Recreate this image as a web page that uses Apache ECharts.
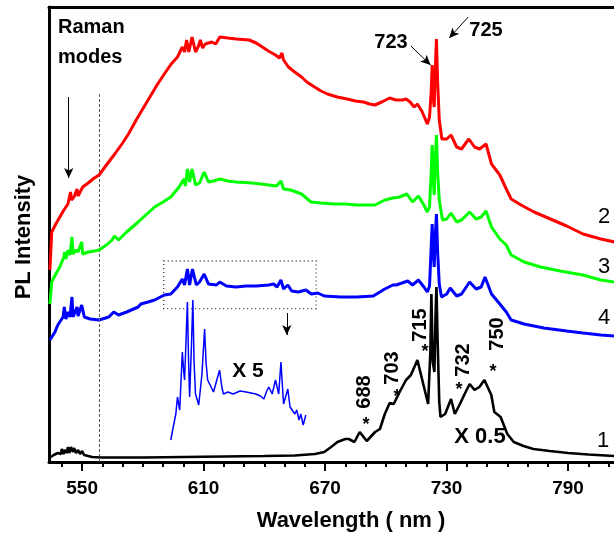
<!DOCTYPE html>
<html>
<head>
<meta charset="utf-8">
<script src="https://cdn.jsdelivr.net/npm/echarts@6/dist/echarts.min.js"></script>
<style>
html,body{margin:0;padding:0;background:#fff}
#plchart{width:614px;height:537px}
</style>
</head>
<body>
<div id="plchart"></div>
<script>
// tick labels of the wavelength axis
var majorTicks = [550, 610, 670, 730, 790]
var minorTicks = [540, 550, 560, 570, 580, 590, 600, 610, 620, 630, 640, 650, 660, 670, 680, 690, 700, 710, 720, 730, 740, 750, 760, 770, 780, 790, 800, 810]

// curve 2 (red)
var redNm = [534.1, 535.0, 537, 539, 541, 543, 544.3, 544.7, 546, 547.5, 548, 550.3, 553, 556, 558.4, 562, 566.5, 570, 572.9, 577, 582.6, 587, 590.6, 594, 597.1, 599.5, 600.6, 601.6, 602.7, 604.3, 606.0, 607.5, 608.4, 609.5, 610.8, 614.0, 616, 618.0, 622, 626.1, 632.5, 636, 639.0, 642, 645.5, 647.5, 648.7, 649.5, 651.9, 655, 658.4, 661, 664.8, 668, 671.2, 676, 680.9, 685, 689.0, 692, 694.6, 698, 701.9, 705, 708.3, 710, 712, 714, 715.6, 718, 720.5, 721.6, 722.4, 722.9, 723.4, 723.9, 724.4, 725.0, 725.6, 726.4, 727.7, 730.1, 732.2, 735.0, 737.4, 741.0, 743.8, 746.3, 749.5, 752.2, 756.3, 759.5, 761.9, 766.8, 773.2, 781.3, 789.3, 797.4, 806.2, 813]
var redPl = [192, 230, 238, 245, 252, 258, 270, 262, 265, 273, 266, 275, 279, 284, 287, 297, 309, 319, 328, 343, 362, 377, 388, 398, 405, 415, 410, 422, 410, 425, 410, 416, 422, 414, 418, 420, 418, 425, 424, 423, 422, 419, 415, 411, 407, 404, 409, 402, 395, 390, 385, 380, 375, 371, 368, 365, 363, 361, 360, 358, 357, 360, 364, 362, 362, 363, 360, 355, 358, 350, 338, 345, 370, 397, 365, 355, 390, 423, 380, 342, 323, 323, 327, 315, 313, 323, 315, 313, 318, 298, 287, 273, 263, 257, 250, 243, 236, 228, 223, 220]

// curve 3 (green)
var greenNm = [534.1, 535, 537, 539, 541, 541.4, 542, 543, 544, 545, 545.5, 547, 548, 549.8, 550.3, 553, 556, 558.4, 562, 564.8, 566, 568, 572, 577.7, 582, 585.8, 590, 593.8, 597.9, 600.3, 601, 602, 603.1, 604.3, 606, 608, 610.3, 612.4, 615, 618, 622, 626.1, 634, 642.2, 646, 648.2, 649.5, 653, 658.4, 663, 668, 674.5, 680, 685.8, 690, 694.6, 699.5, 703.5, 706.8, 710.4, 713.2, 716.1, 718.8, 720.5, 721.6, 722.4, 722.9, 723.4, 723.9, 724.4, 725.0, 725.6, 726.4, 728.0, 730.1, 732.2, 735, 737.4, 741.4, 744.6, 747.1, 749.5, 752.2, 756.3, 759.5, 761.9, 768.3, 776.4, 786.1, 797.4, 806.2, 813]
var greenPl = [158, 180, 188, 195, 205, 210, 203, 212, 207, 225, 208, 212, 210, 220, 208, 210, 211, 212, 217, 222, 226, 222, 230, 240, 248, 255, 260, 265, 275, 283, 276, 293, 280, 293, 277, 279, 290, 280, 281, 283, 281, 280, 279, 277, 276, 281, 273, 272, 268, 260, 259, 258, 258, 257, 257, 257, 262, 264, 265, 268, 260, 266, 257, 250, 255, 290, 317, 285, 267, 300, 327, 290, 262, 242, 243, 249, 240, 242, 250, 243, 245, 251, 235, 223, 217, 207, 200, 195, 191, 187, 182, 180]

// curve 4 (blue)
var blueNm = [534.1, 536.6, 538, 540.6, 541.2, 542, 543, 544, 545, 545.5, 546.5, 547.5, 548, 549.8, 551.1, 554, 558.4, 563.2, 565.6, 568, 572, 577.7, 579, 582.6, 585.8, 590.6, 593.8, 597.1, 599.5, 600.6, 602, 603.1, 604.5, 606.4, 608, 610.3, 612.4, 616.4, 618, 621.3, 626.1, 631, 636, 642.2, 644.6, 646.3, 648.2, 649.5, 651.6, 653.5, 656.8, 660.5, 663.2, 666.4, 669.6, 677.7, 685.8, 693.8, 699.5, 703.5, 705.1, 708, 710.8, 713.2, 716.1, 718.8, 720.5, 721.6, 722.4, 722.9, 723.4, 723.9, 724.4, 725.0, 725.6, 726.4, 727.5, 730.1, 731.8, 732.5, 735, 737.4, 741.4, 744.6, 747.1, 749.0, 752.2, 756.3, 759.5, 761.9, 768.3, 778, 789.3, 797.4, 806.2, 813]
var bluePl = [122, 130, 137, 145, 155, 143, 150, 145, 165, 145, 150, 155, 146, 157, 145, 143, 142, 145, 150, 147, 150, 155, 158, 160, 162, 167, 168, 175, 183, 177, 193, 177, 193, 177, 180, 188, 178, 177, 180, 176, 175, 176, 176, 177, 178, 175, 182, 173, 177, 171, 170, 172, 168, 169, 166, 165, 165, 166, 173, 177, 177, 179, 181, 177, 182, 175, 170, 176, 215, 238, 210, 195, 225, 248, 210, 178, 165, 168, 174, 175, 166, 168, 180, 173, 175, 185, 168, 158, 150, 142, 138, 134, 131, 129, 127, 126]

// curve 4 magnified x 5 (inset)
var insetNm = [593.8, 595, 596.3, 597.1, 598.2, 599.5, 600.2, 600.6, 601.3, 602, 602.6, 603.1, 603.9, 604.7, 605.3, 606, 607.6, 609.2, 610.5, 611.2, 612, 614.9, 617.9, 619, 619.8, 622, 624.6, 628, 631, 635.8, 638, 639.8, 641, 642.2, 643.9, 645.5, 647.1, 648.2, 649.5, 651.6, 652.7, 655.1, 656, 657.1, 658, 659.2, 660.5]
var insetPl = [22, 35, 48, 65, 52, 110, 90, 82, 120, 160, 100, 65, 110, 162, 100, 68, 57, 88, 133, 100, 82, 70, 92, 75, 68, 70, 68, 71, 70, 68, 66, 63, 70, 75, 68, 82, 68, 100, 58, 73, 55, 48, 52, 42, 48, 37, 47]

// curve 1 (black, x 0.5)
var blackNm = [533.7, 536, 538, 539.5, 540, 540.8, 541.5, 542.5, 543, 543.7, 544.5, 545.5, 546, 547, 548, 549, 550, 551, 553, 555, 560, 580, 600, 620, 640, 655, 665, 669.6, 673, 676.1, 680, 681.7, 684.5, 687.1, 690.6, 694.7, 697.1, 699.5, 701.9, 703.9, 706.8, 710, 712.4, 715.6, 718, 720.9, 722, 722.5, 723.2, 724, 724.6, 725, 725.6, 726.4, 727, 729.3, 732.2, 734.1, 736.6, 738.7, 741.4, 743.8, 746.2, 748.7, 752.1, 753.6, 756.7, 760, 763.2, 768, 772.9, 781, 790, 800, 813]
var blackPl = [4, 7, 9, 8, 13, 8, 12, 9, 15, 9, 15, 10, 14, 9, 12, 8, 11, 7, 6, 5, 4.5, 4.5, 5, 5.5, 6, 6.5, 8, 10, 15, 20, 23, 23, 20, 30, 21, 30, 33, 48, 59, 58, 70, 82, 87, 102, 82, 58, 110, 168, 100, 90, 150, 175, 120, 60, 45, 48, 63, 48, 58, 67, 78, 72, 75, 82, 67, 50, 45, 28, 20, 16, 13, 11, 9, 7.5, 6]

function pairs(xs, ys){
	var out = []
	for (var i = 0; i < xs.length; i++) out.push([xs[i], ys[i]])
	return out
}

var font = "'Liberation Sans', Arial, sans-serif"
var axisMin = 533.65
var axisMax = 812.7

function txt(x, y, text, size, bold, rot, align){
	return {
		type: 'text', x: x, y: y, rotation: rot || 0, z: 50,
		style: {
			text: text, fill: '#000',
			font: (bold ? 'bold ' : '') + size + 'px ' + font,
			align: align || 'center', verticalAlign: 'middle'
		}
	}
}

var myChart = echarts.init(document.getElementById('plchart'))
var option = {
	animation: false,
	grid: {left: 49, right: -10, top: 7, bottom: 75},
	xAxis: [{
		type: 'value', min: axisMin, max: axisMax, position: 'bottom',
		axisLine: {lineStyle: {color: '#000', width: 3}},
		axisTick: {customValues: majorTicks, length: 9, lineStyle: {color: '#000', width: 2}},
		axisLabel: {customValues: majorTicks, margin: 17, color: '#000', fontSize: 19, fontWeight: 'bold', fontFamily: font},
		splitLine: {show: false}
	}, {
		type: 'value', min: axisMin, max: axisMax, position: 'bottom',
		axisLine: {show: false},
		axisTick: {customValues: minorTicks, length: 5, lineStyle: {color: '#000', width: 2}},
		axisLabel: {show: false},
		splitLine: {show: false}
	}, {
		type: 'value', min: axisMin, max: axisMax, position: 'top',
		axisLine: {lineStyle: {color: '#000', width: 3}},
		axisTick: {show: false},
		axisLabel: {show: false},
		splitLine: {show: false}
	}],
	yAxis: {
		type: 'value', min: 0, max: 455,
		axisLine: {show: true, lineStyle: {color: '#000', width: 3}},
		axisTick: {show: false},
		axisLabel: {show: false},
		splitLine: {show: false}
	},
	series: [{
		name: '1', type: 'line', showSymbol: false, data: pairs(blackNm, blackPl),
		lineStyle: {color: '#000', width: 2.6}, z: 2,
		markLine: {
			silent: true, symbol: ['none', 'arrow'], symbolSize: [7, 10], label: {show: false},
			lineStyle: {color: '#000', width: 1, type: 'solid'},
			data: [
				[{coord: [543.4, 365]}, {coord: [543.4, 284]}],
				[{coord: [651.1, 149]}, {coord: [651.1, 127]}],
				[{coord: [712.4, 416]}, {coord: [722.1, 397]}],
				[{coord: [740.7, 445]}, {coord: [731.3, 424]}],
				[{coord: [558.4, 0], symbol: 'none', lineStyle: {color: '#555', width: 1, type: [3, 2]}}, {coord: [558.4, 370], symbol: 'none'}]
			]
		}
	}, {
		name: 'x5', type: 'line', showSymbol: false, data: pairs(insetNm, insetPl),
		lineStyle: {color: '#0000ff', width: 1.5}, z: 3,
		markArea: {
			silent: true,
			itemStyle: {color: 'rgba(0,0,0,0)', borderColor: '#333', borderWidth: 1.3, borderType: [1, 3]},
			data: [[{coord: [590.3, 201]}, {coord: [665.6, 153.4]}]]
		}
	}, {
		name: '4', type: 'line', showSymbol: false, data: pairs(blueNm, bluePl),
		lineStyle: {color: '#0000ff', width: 3}, z: 4
	}, {
		name: '3', type: 'line', showSymbol: false, data: pairs(greenNm, greenPl),
		lineStyle: {color: '#00ff00', width: 3}, z: 5
	}, {
		name: '2', type: 'line', showSymbol: false, data: pairs(redNm, redPl),
		lineStyle: {color: '#ff0000', width: 3}, z: 6
	}],
	graphic: [
		txt(58, 27, 'Raman', 20, true, 0, 'left'),
		txt(58, 57, 'modes', 20, true, 0, 'left'),
		txt(391, 42, '723', 20, true),
		txt(486, 30, '725', 20, true),
		txt(604, 217, '2', 22, false),
		txt(604, 267, '3', 22, false),
		txt(604, 318, '4', 22, false),
		txt(603, 441, '1', 22, false),
		txt(248, 371, 'X 5', 21, true),
		txt(480, 437, 'X 0.5', 22, true),
		txt(364, 392, '688', 20, true, Math.PI / 2),
		txt(392, 368, '703', 20, true, Math.PI / 2),
		txt(420, 325, '715', 20, true, Math.PI / 2),
		txt(463, 360, '732', 20, true, Math.PI / 2),
		txt(497, 334, '750', 20, true, Math.PI / 2),
		txt(366, 425, '*', 18, true),
		txt(397, 397, '*', 18, true),
		txt(425, 352, '*', 18, true),
		txt(459, 390, '*', 18, true),
		txt(493, 372, '*', 18, true),
		txt(24, 237, 'PL Intensity', 22, true, Math.PI / 2),
		txt(351, 521, 'Wavelength ( nm )', 22, true)
	]
}
myChart.setOption(option)
window.addEventListener('resize', function(){
	myChart.resize()
})
</script>
</body>
</html>
